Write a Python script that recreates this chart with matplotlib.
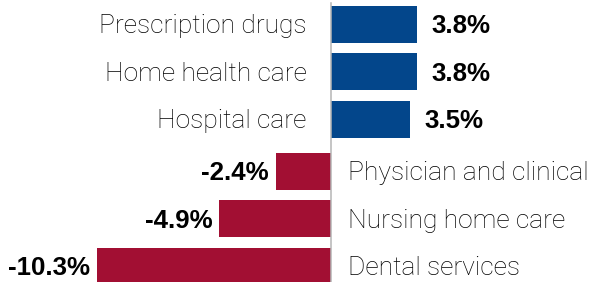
import matplotlib
matplotlib.use("Agg")
import matplotlib.pyplot as plt

categories = ["Prescription drugs", "Home health care", "Hospital care",
              "Physician and clinical", "Nursing home care", "Dental services"]
values = [3.8, 3.8, 3.5, -2.4, -4.9, -10.3]
value_labels = ["3.8%", "3.8%", "3.5%", "-2.4%", "-4.9%", "-10.3%"]

BLUE = "#03468B"
RED = "#A20F33"

W, H = 590, 282
fig = plt.figure(figsize=(W / 100, H / 100), dpi=100)
ax = fig.add_axes([0, 0, 1, 1])

px_per_unit = 22.7
zero_px = 330.5
ax.set_xlim(-zero_px / px_per_unit, (W - zero_px) / px_per_unit)

pitch = 47.5
first_center = 24.35
gap = 4.5 / pitch
ax.set_ylim((H - first_center) / pitch, -first_center / pitch)

ypos = [i + (gap if v < 0 else 0) for i, v in enumerate(values)]
colors = [BLUE if v >= 0 else RED for v in values]
ax.barh(ypos, values, height=36.7 / pitch, color=colors, linewidth=0)

ax.axvline(0, ymin=0, ymax=1 - 3 / H, color="#b5b5b5", lw=1.1, zorder=3)

cat_font = dict(family=["Roboto", "DejaVu Sans"], weight="light", size=19, color="#000000")
val_font = dict(family=["Liberation Sans", "DejaVu Sans"], weight="bold", size=18.6, color="#000000")

for y, v, cat, lab in zip(ypos, values, categories, value_labels):
    yt = y + 0.04
    if v >= 0:
        ax.text(-24 / px_per_unit, yt, cat, ha="right", va="center", **cat_font)
        ax.text(v + 15 / px_per_unit, yt, lab, ha="left", va="center", **val_font)
    else:
        ax.text(18 / px_per_unit, yt, cat, ha="left", va="center", **cat_font)
        ax.text(v - 7 / px_per_unit, yt, lab, ha="right", va="center", **val_font)

ax.axis("off")
fig.savefig("out.png", dpi=100, facecolor="white")
